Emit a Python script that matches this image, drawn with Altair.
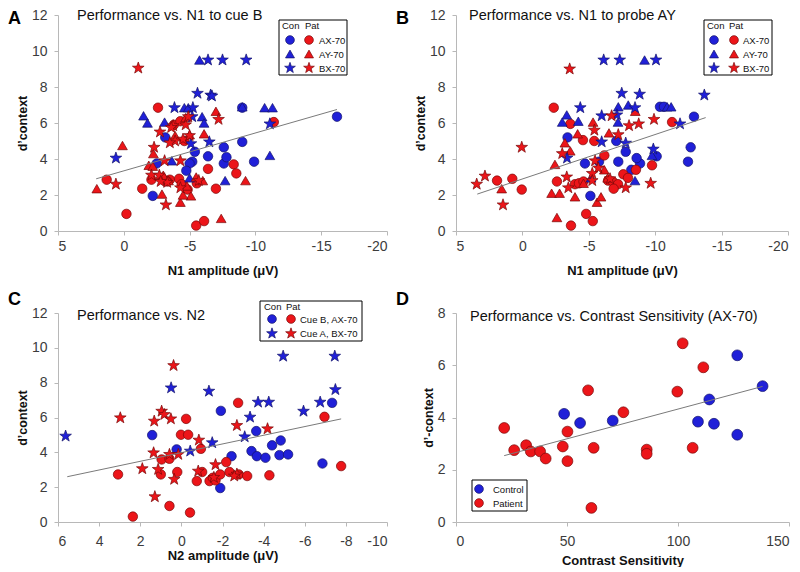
import altair as alt
import pandas as pd

FONT = "Liberation Sans, Arial, sans-serif"
BLUE, BLUE_S = "#2020d8", "#12126a"
RED, RED_S = "#ec1519", "#780808"
STAR = ("M0,-1L0.235,-0.324L0.951,-0.309L0.380,0.124L0.588,0.809L0,0.4"
        "L-0.588,0.809L-0.380,0.124L-0.951,-0.309L-0.235,-0.324Z")

# ---------------- Panel A : Performance vs. N1 to cue B ----------------
A_con_ax_x = [-16.2, -9.0, -9.0, -9.9, -7.6, -7.6, -7.8, -6.4, -5.4, -5.2, -5.0, -4.75, -3.15, -2.5, -2.2]
A_con_ax_y = [6.35, 6.85, 4.95, 3.85, 4.65, 3.75, 4.1, 4.15, 4.4, 3.85, 3.75, 3.35, 5.2, 3.75, 1.95]
A_con_ay_x = [-5.75, -9.0, -10.7, -11.3, -11.1, -1.5, -1.8, -3.1, -4.6, -4.9, -5.95, -6.1, -3.65, -5.0, -7.7]
A_con_ay_y = [9.5, 6.9, 6.85, 6.85, 4.2, 6.4, 6.0, 6.05, 6.85, 6.85, 6.35, 6.0, 3.9, 2.95, 2.8]
A_con_bx_x = [-6.4, -7.5, -9.3, -5.6, -6.6, -6.7, -3.85, -5.25, -5.2, -6.5, 0.6, -11.1, -5.1]
A_con_bx_y = [9.5, 9.5, 9.5, 7.65, 7.55, 7.5, 6.85, 6.85, 6.35, 4.95, 4.05, 5.95, 4.85]
A_pat_ax_x = [-2.6, -11.4, -3.8, 1.3, -1.4, -0.2, -5.5, -6.1, -7.0, -6.4, -8.35, -8.55, -2.1,
              -2.9, -3.5, -4.2, -4.85, -5.55, -3.3, -4.4, -4.6, -4.3]
A_pat_ax_y = [6.85, 6.05, 5.9, 2.85, 2.35, 0.95, 0.3, 0.55, 2.35, 3.45, 3.7, 3.2, 2.85,
              2.95, 2.85, 2.9, 2.3, 2.65, 2.75, 2.6, 5.0, 6.1]
A_pat_ay_x = [2.05, 0.1, -2.25, -1.9, -7.0, -6.1, -2.9, -4.3, -5.1, -4.5, -7.4, -9.25, -6.0, -5.5,
              -3.9, -4.7, -5.0, -2.2, -3.4, -3.0, -4.8]
A_pat_ay_y = [2.35, 4.75, 4.3, 3.65, 6.65, 5.4, 2.05, 1.6, 1.95, 2.0, 0.7, 2.8, 2.8, 3.0,
              5.3, 6.3, 5.35, 3.6, 2.8, 3.1, 2.5]
A_pat_bx_x = [-1.1, -7.2, -2.3, 0.6, -3.2, -4.3, -3.75, -3.6, -3.9, -4.7, -4.5, -5.0, -2.75, -2.1,
              -2.7, -3.1, -4.3, -5.7, -3.3, -2.8, -4.9, -3.5]
A_pat_bx_y = [9.05, 6.2, 4.65, 2.6, 1.45, 3.9, 5.85, 5.75, 5.0, 5.9, 5.1, 5.3, 5.5, 3.1,
              3.1, 3.9, 2.4, 2.8, 2.7, 2.75, 6.35, 4.9]
A_line_x = [2.1, -16.2]
A_line_y = [2.9, 6.75]

# ---------------- Panel B : Performance vs. N1 to probe AY ----------------
B_con_ax_x = [-3.4, -7.07, -7.78, -4.71, -5.77, -7.22, -5.12, -10.36, -10.66, -12.92, -12.67, -12.47,
              -10.11, -8.86, -8.6, -8.2]
B_con_ax_y = [5.2, 5.0, 4.4, 3.75, 3.85, 3.85, 1.95, 6.9, 6.9, 6.35, 4.65, 3.85,
              4.15, 3.75, 4.05, 3.4]
B_con_ay_x = [-9.2, -3.34, -3.0, -4.21, -7.22, -7.97, -7.2, -5.17, -10.9, -11.2, -9.76, -8.48]
B_con_ay_y = [9.5, 6.45, 6.05, 6.1, 6.9, 7.0, 6.05, 2.95, 6.9, 6.9, 4.2, 2.8]
B_con_bx_x = [-6.12, -7.33, -10.06, -7.48, -8.83, -13.7, -4.36, -5.97, -7.12, -5.97, -7.78, -3.36,
              -8.48, -11.87, -9.86]
B_con_bx_y = [9.5, 9.5, 9.5, 7.65, 7.6, 7.55, 6.85, 6.4, 6.45, 4.95, 4.88, 4.05,
              6.85, 5.95, 4.55]
B_pat_ax_x = [-2.36, -3.61, 1.91, 0.76, 0.05, -2.6, -3.66, -4.8, -5.3, -4.56, -5.41, -6.17, -3.96,
              -4.26, -4.6, -6.45, -6.8, -7.2, -7.6, -7.95, -6.87, -11.27, -9.76, -8.55]
B_pat_ax_y = [6.85, 5.95, 2.8, 2.9, 2.3, 2.75, 0.3, 0.95, 0.55, 5.05, 5.0, 4.2, 2.6,
              2.65, 2.75, 2.8, 2.75, 2.6, 3.15, 2.95, 2.35, 6.05, 3.65, 3.4]
B_pat_ay_x = [1.56, -2.45, -2.2, -2.8, -2.6, -4.16, -5.32, -6.52, -3.2, -3.6, -3.96, -5.62, -5.92,
              -6.17, -6.42, -8.5, -4.6]
B_pat_ay_y = [2.35, 3.7, 2.1, 2.1, 0.75, 5.4, 6.05, 5.45, 4.9, 4.45, 1.9, 1.6, 1.9,
              3.4, 2.95, 6.65, 2.65]
B_pat_bx_x = [-3.56, 0.05, 3.44, 2.82, 1.46, -5.42, -6.72, -7.22, -8.03, -5.47, -5.72, -5.26, -5.26,
              -3.34, -3.46, -7.78, -8.76, -9.91, -9.66, -3.0, -6.6]
B_pat_bx_y = [9.0, 4.65, 2.6, 3.05, 1.45, 5.6, 6.4, 5.35, 5.85, 3.9, 3.5, 3.2, 2.8,
              3.0, 2.4, 2.4, 5.95, 6.2, 2.65, 4.3, 2.9]
B_line_x = [3.4, -13.8]
B_line_y = [2.05, 6.3]

# ---------------- Panel C : Performance vs. N2 ----------------
C_con_ax_x = [1.42, 0.23, -1.92, -1.89, -2.44, -3.64, -3.41, -3.67, -4.09, -4.41, -4.83, -4.77, -5.19, -6.86, -7.33]
C_con_ax_y = [4.99, 4.17, 6.38, 1.95, 3.78, 5.22, 4.07, 3.78, 3.69, 4.4, 4.68, 3.84, 3.88, 3.36, 6.84]
C_con_bx_x = [5.63, 0.5, -1.34, -0.43, -1.5, -3.34, -3.08, -3.73, -4.25, -4.95, -7.46, -7.49, -5.94, -6.75]
C_con_bx_y = [4.93, 7.7, 7.51, 4.07, 4.55, 6.02, 4.89, 6.88, 6.88, 9.52, 9.52, 7.6, 6.36, 6.88]
C_pat_ax_x = [3.08, 2.36, 0.58, -0.42, 1.0, 0.96, 0.58, 0.2, -0.23, 0.02, -0.33, -0.95, -1.01, -0.75,
              -1.37, -1.53, -1.66, -1.89, -2.18, -2.34, -2.79, -2.76, -3.2, -4.28, -6.96, -7.77]
C_pat_ax_y = [2.73, 0.31, 0.92, 0.54, 2.73, 3.59, 3.63, 2.87, 5.92, 5.01, 5.01, 4.2, 2.87, 2.35,
              2.35, 2.54, 2.39, 2.73, 3.44, 2.87, 2.73, 6.84, 2.64, 2.68, 6.04, 3.21]
C_pat_bx_x = [0.38, 2.97, 0.96, 0.83, 1.32, 0.51, 1.9, 1.35, 1.13, 1.29, 0.58, 0.15, 0.35, -0.85,
              -0.82, -1.66, -1.58, -2.7, -2.7, -2.57, -4.19]
C_pat_bx_y = [8.98, 5.98, 6.36, 6.17, 5.79, 5.92, 3.06, 3.97, 3.02, 1.45, 3.88, 3.88, 2.45, 4.7,
              2.92, 3.29, 2.56, 5.54, 2.75, 2.64, 5.35]
C_line_x = [5.55, -7.77]
C_line_y = [2.6, 5.92]

# ---------------- Panel D : Performance vs. Contrast Sensitivity (AX-70) ----------------
D_con_x = [48.7, 55.9, 70.6, 109.0, 114.1, 116.2, 126.7, 126.7, 138.1]
D_con_y = [4.14, 3.79, 3.88, 3.84, 4.69, 3.76, 6.38, 3.34, 5.2]
D_pat_x = [21.7, 26.2, 31.6, 33.7, 37.9, 40.4, 48.1, 50.2, 50.2, 59.5, 62.0, 61.0, 75.4, 85.9, 85.9,
           99.7, 102.1, 111.4, 106.6]
D_pat_y = [3.6, 2.75, 2.94, 2.7, 2.7, 2.43, 2.89, 3.46, 2.33, 5.04, 2.84, 0.54, 4.2, 2.77, 2.61,
           4.99, 6.84, 5.92, 2.84]
D_line_x = [21.7, 138.1]
D_line_y = [2.54, 5.19]

SHAPES = {"AX": "circle", "AY": "triangle-up", "BX": STAR}
SIZES = {"AX": 90, "AY": 95, "BX": 150}
FILLS = {"Con": BLUE, "Pat": RED}
STROKES = {"Con": BLUE_S, "Pat": RED_S}


def frame(series, size_scale=1.0):
    rows = []
    for grp, kind, xs, ys in series:
        for x, y in zip(xs, ys):
            rows.append({"x": x, "y": y, "fill": FILLS[grp], "stroke": STROKES[grp],
                         "shape": SHAPES[kind], "size": SIZES[kind] * size_scale})
    return pd.DataFrame(rows)


def one():
    return alt.Chart(pd.DataFrame({"a": [0]}))


def text_at(txt, x, y, size, weight="normal", baseline="alphabetic", color="#111111"):
    return one().mark_text(text=txt, align="left", baseline=baseline, fontSize=size,
                           fontWeight=weight, font=FONT, color=color).encode(
        x=alt.value(x), y=alt.value(y))


def sym(grp, kind, x, y, size_scale=1.0):
    return one().mark_point(shape=SHAPES[kind], filled=True, fill=FILLS[grp], stroke=STROKES[grp],
                            strokeWidth=0.7, opacity=1, size=SIZES[kind] * size_scale * 0.85).encode(
        x=alt.value(x), y=alt.value(y))


def box(x0, x1, y0, y1):
    return one().mark_rect(fill="white", stroke="black", strokeWidth=1).encode(
        x=alt.value(x0), x2=alt.value(x1), y=alt.value(y0), y2=alt.value(y1))


def xaxis(title, values, lp, tp):
    return alt.Axis(title=title, values=values, tickCount=30, labelExpr="'' + datum.value",
                    grid=False, labelOverlap=False, tickSize=4, labelPadding=lp, titlePadding=tp,
                    domainColor="#b8b8b8", tickColor="#b8b8b8", labelColor="#3c3c3c",
                    labelFontSize=14, labelFont=FONT, titleFont=FONT, titleFontSize=13,
                    titleFontWeight="bold", titleColor="#111111")


def yaxis(title, values):
    return alt.Axis(title=title, values=values, tickCount=30, labelExpr="'' + datum.value",
                    grid=False, labelOverlap=False, tickSize=4, labelPadding=7, titlePadding=2,
                    domainColor="#b8b8b8", tickColor="#b8b8b8", labelColor="#3c3c3c",
                    labelFontSize=14, labelFont=FONT, titleFont=FONT, titleFontSize=12.5,
                    titleFontWeight="bold", titleColor="#111111")


def panel(df, line_x, line_y, xdom, xvals, xtitle, ydom, yvals, ytitle, lp, tp):
    xs = alt.Scale(domain=xdom, reverse=xdom[0] < 0, nice=False, zero=False)
    ys = alt.Scale(domain=ydom, nice=False, zero=False)
    pts = alt.Chart(df).mark_point(filled=True, opacity=1, strokeWidth=0.7).encode(
        x=alt.X("x:Q", scale=xs, axis=xaxis(xtitle, xvals, lp, tp)),
        y=alt.Y("y:Q", scale=ys, axis=yaxis(ytitle, yvals)),
        fill=alt.Fill("fill:N", scale=None),
        stroke=alt.Stroke("stroke:N", scale=None),
        shape=alt.Shape("shape:N", scale=None),
        size=alt.Size("size:Q", scale=None),
    )
    line = alt.Chart(pd.DataFrame({"x": line_x, "y": line_y})).mark_line(
        color="#7a7a7a", strokeWidth=1).encode(x="x:Q", y="y:Q")
    return pts, line


# ---- A
dfA = frame([("Con", "AX", A_con_ax_x, A_con_ax_y), ("Pat", "AX", A_pat_ax_x, A_pat_ax_y),
             ("Con", "AY", A_con_ay_x, A_con_ay_y), ("Pat", "AY", A_pat_ay_x, A_pat_ay_y),
             ("Con", "BX", A_con_bx_x, A_con_bx_y), ("Pat", "BX", A_pat_bx_x, A_pat_bx_y)])
ptsA, lineA = panel(dfA, A_line_x, A_line_y, [-20, 5], [5, 0, -5, -10, -15, -20], "N1 amplitude (\u03bcV)",
                    [0, 12], [0, 2, 4, 6, 8, 10, 12], "d\u2019context", 4, 11)
legA = [box(221, 289, 5, 60), text_at("Con", 224, 14, 9.5), text_at("Pat", 247, 14, 9.5)]
for i, (k, lab) in enumerate([("AX", "AX-70"), ("AY", "AY-70"), ("BX", "BX-70")]):
    yy = 25 + 14 * i
    legA += [sym("Con", k, 232, yy), sym("Pat", k, 251, yy), text_at(lab, 261, yy + 3.5, 9.5)]
chartA = alt.layer(ptsA, lineA, *legA,
                   text_at("Performance vs. N1 to cue B", 19, 5, 14.5),
                   text_at("A", -50, -5, 18, "bold", "top", "black")).properties(width=329, height=216)

# ---- B
dfB = frame([("Con", "AX", B_con_ax_x, B_con_ax_y), ("Pat", "AX", B_pat_ax_x, B_pat_ax_y),
             ("Con", "AY", B_con_ay_x, B_con_ay_y), ("Pat", "AY", B_pat_ay_x, B_pat_ay_y),
             ("Con", "BX", B_con_bx_x, B_con_bx_y), ("Pat", "BX", B_pat_bx_x, B_pat_bx_y)])
ptsB, lineB = panel(dfB, B_line_x, B_line_y, [-20, 5], [5, 0, -5, -10, -15, -20], "N1 amplitude (\u03bcV)",
                    [0, 12], [0, 2, 4, 6, 8, 10, 12], "d\u2019context", 4, 11)
legB = [box(248, 316, 5, 60), text_at("Con", 251, 14, 9.5), text_at("Pat", 273, 14, 9.5)]
for i, (k, lab) in enumerate([("AX", "AX-70"), ("AY", "AY-70"), ("BX", "BX-70")]):
    yy = 25 + 14 * i
    legB += [sym("Con", k, 258, yy), sym("Pat", k, 278, yy), text_at(lab, 287, yy + 3.5, 9.5)]
chartB = alt.layer(ptsB, lineB, *legB,
                   text_at("Performance vs. N1 to probe AY", 13, 5, 14.5),
                   text_at("B", -60, -5, 18, "bold", "top", "black")).properties(width=332, height=216)

# ---- C
dfC = frame([("Con", "AX", C_con_ax_x, C_con_ax_y), ("Pat", "AX", C_pat_ax_x, C_pat_ax_y),
             ("Con", "BX", C_con_bx_x, C_con_bx_y), ("Pat", "BX", C_pat_bx_x, C_pat_bx_y)])
ptsC, lineC = panel(dfC, C_line_x, C_line_y, [-10, 6], [6, 4, 2, 0, -2, -4, -6, -8, -10], "N2 amplitude (\u03bcV)",
                    [0, 12], [0, 2, 4, 6, 8, 10, 12], "d\u2019context", 8, 1)
legC = [box(202, 304, -12, 28), text_at("Con", 206, -3, 9.5), text_at("Pat", 228, -3, 9.5)]
for i, (k, lab) in enumerate([("AX", "Cue B, AX-70"), ("BX", "Cue A, BX-70")]):
    yy = 6 + 14.5 * i
    legC += [sym("Con", k, 214, yy), sym("Pat", k, 233, yy), text_at(lab, 242, yy + 3.5, 9.5)]
chartC = alt.layer(ptsC, lineC, *legC,
                   text_at("Performance vs. N2", 19, 7, 14.5),
                   text_at("C", -50, -22, 18, "bold", "top", "black")).properties(width=329, height=209)

# ---- D
dfD = frame([("Con", "AX", D_con_x, D_con_y), ("Pat", "AX", D_pat_x, D_pat_y)], size_scale=1.3)
ptsD, lineD = panel(dfD, D_line_x, D_line_y, [0, 150], [0, 50, 100, 150], "Contrast Sensitivity",
                    [0, 8], [0, 2, 4, 6, 8], "d\u2019-context", 8, 6)
legD = [box(16, 71, 167, 198),
        sym("Con", "AX", 23, 176), text_at("Control", 37, 179.5, 9.5),
        sym("Pat", "AX", 23, 190), text_at("Patient", 37, 193.5, 9.5)]
chartD = alt.layer(ptsD, lineD, *legD,
                   text_at("Performance vs. Contrast Sensitivity (AX-70)", 14, 8, 14.5),
                   text_at("D", -60, -22, 18, "bold", "top", "black")).properties(width=333, height=209)

chart = alt.concat(chartA, chartB, chartC, chartD, columns=2, bounds="flush", align="each",
                   spacing={"row": 82, "column": 69}).properties(
    padding=0, background="white").configure_view(stroke=None)

chart.save("out.html", embed_options={"renderer": "svg", "actions": False})
